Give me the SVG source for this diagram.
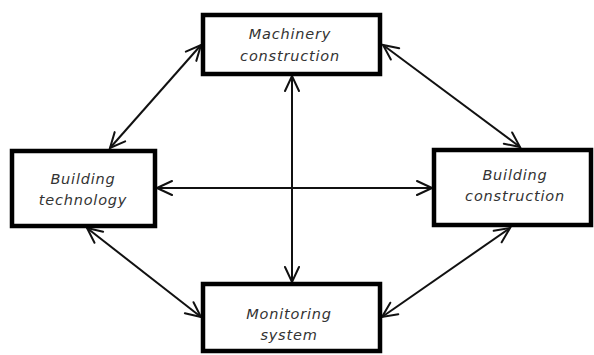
<svg xmlns="http://www.w3.org/2000/svg" width="594" height="355" viewBox="0 0 594 355">
<defs>
<marker id="ah" markerUnits="userSpaceOnUse" markerWidth="20" markerHeight="20" viewBox="-18 -10 20 20" refX="0" refY="0" orient="auto-start-reverse">
<path d="M-15,-7 L0,0 L-15,7" fill="none" stroke="#111" stroke-width="2" stroke-linecap="round" stroke-linejoin="miter"/>
</marker>
<style>
.box{fill:#fff;stroke:#000;stroke-width:4.5}
.lbl{font-family:"DejaVu Sans",sans-serif;font-style:italic;font-size:14.5px;fill:#333;text-anchor:middle;letter-spacing:0.8px}
.con{stroke:#111;stroke-width:2;fill:none;marker-start:url(#ah);marker-end:url(#ah)}
</style>
</defs>
<rect width="594" height="355" fill="#fff"/>
<g id="connectors">
<line class="con" x1="110" y1="148" x2="201" y2="45"/>
<line class="con" x1="383" y1="45" x2="520" y2="147"/>
<line class="con" x1="157" y1="188" x2="432" y2="188"/>
<line class="con" x1="292" y1="76" x2="292" y2="282"/>
<line class="con" x1="87" y1="228" x2="201" y2="317"/>
<line class="con" x1="510" y1="228" x2="382" y2="317"/>
</g>
<g id="machinery">
<rect class="box" x="203" y="15" width="177" height="59"/>
<text class="lbl" x="290" y="39">Machinery</text>
<text class="lbl" x="290" y="61">construction</text>
</g>
<g id="technology">
<rect class="box" x="12" y="151" width="143" height="75"/>
<text class="lbl" x="83" y="184">Building</text>
<text class="lbl" x="83" y="205">technology</text>
</g>
<g id="construction">
<rect class="box" x="434" y="150" width="157" height="75"/>
<text class="lbl" x="515" y="180">Building</text>
<text class="lbl" x="515" y="201">construction</text>
</g>
<g id="monitoring">
<rect class="box" x="203" y="284" width="177" height="67"/>
<text class="lbl" x="289" y="319">Monitoring</text>
<text class="lbl" x="289" y="340">system</text>
</g>
</svg>
